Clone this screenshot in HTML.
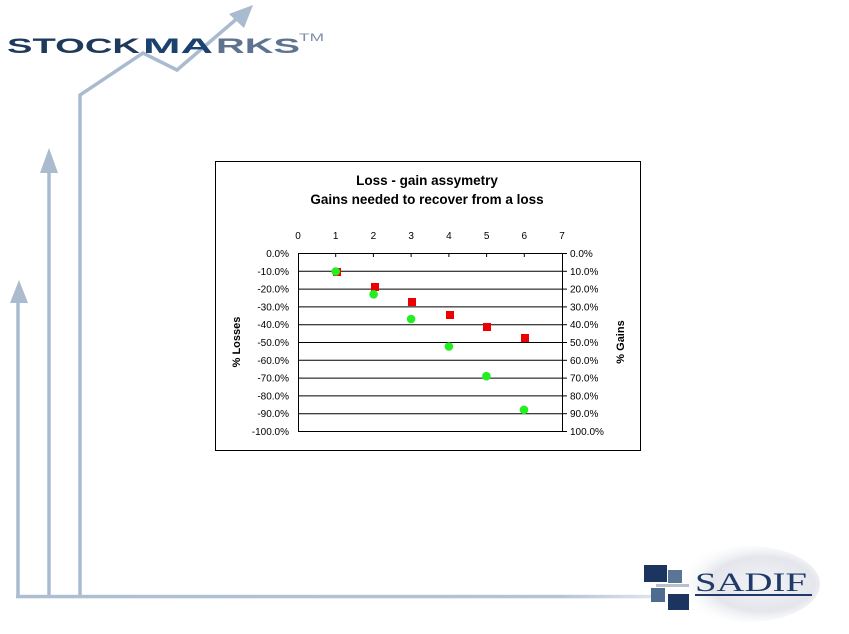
<!DOCTYPE html>
<html><head><meta charset="utf-8"><style>
html,body{margin:0;padding:0;background:#fff;}
svg{display:block;}
text{font-family:"Liberation Sans",Arial,sans-serif;}
text.serif{font-family:"Liberation Serif","DejaVu Serif",serif;}
</style></head><body>
<svg width="849" height="634" viewBox="0 0 849 634" xmlns="http://www.w3.org/2000/svg">
<defs>
<radialGradient id="ell" cx="0.6" cy="0.5" r="0.6">
<stop offset="0" stop-color="#f2f3f6"/>
<stop offset="0.6" stop-color="#e4e6ec"/>
<stop offset="1" stop-color="#ffffff" stop-opacity="0"/>
</radialGradient>
<linearGradient id="bl" gradientUnits="userSpaceOnUse" x1="16" y1="0" x2="652" y2="0">
<stop offset="0" stop-color="#aebed2"/>
<stop offset="0.85" stop-color="#b4c3d6"/>
<stop offset="1" stop-color="#dde4ec"/>
</linearGradient>
</defs>

<!-- background decoration lines -->
<g stroke="#aabbd0" stroke-width="3.5" fill="none" stroke-linejoin="miter">
<line x1="18" y1="300" x2="18" y2="597"/>
<line x1="49" y1="170" x2="49" y2="597"/>
<polyline points="80,597 80,95 143,53 177,70 240,16"/>
</g>
<rect x="16" y="594.8" width="636" height="3.5" fill="url(#bl)"/>
<g fill="#aabbd0">
<polygon points="19,280 10,303 28,303"/>
<polygon points="49,148 40,173 58,173"/>
<polygon points="253,5 229,14 244,28"/>
</g>

<!-- STOCKMARKS logo -->
<g font-weight="bold" font-size="21">
<text x="7" y="53" textLength="133" lengthAdjust="spacingAndGlyphs" fill="#1d3a5c">STOCK</text>
<text x="143" y="53" textLength="70" lengthAdjust="spacingAndGlyphs" fill="#1b426f">MA</text>
<text x="216" y="53" textLength="84" lengthAdjust="spacingAndGlyphs" fill="#5d7390">RKS</text>
</g>
<text x="299" y="41" font-size="11" fill="#7d8ea6" textLength="25" lengthAdjust="spacingAndGlyphs">TM</text>

<!-- SADIF logo -->
<ellipse cx="748" cy="584" rx="72" ry="38" fill="url(#ell)"/>
<rect x="644" y="565" width="23" height="17" fill="#1b3560"/>
<rect x="668" y="570" width="14" height="13" fill="#5b7597"/>
<rect x="656" y="584" width="33" height="3" fill="#b8c0cc"/>
<rect x="651" y="588" width="14" height="14" fill="#4f6b90"/>
<rect x="668" y="594" width="21" height="16" fill="#1b3560"/>
<text class="serif" x="695" y="591" font-size="26" fill="#1f3a68" textLength="112" lengthAdjust="spacingAndGlyphs">SADIF</text>
<rect x="695" y="594" width="117" height="2" fill="#1f3a68"/>

<!-- Chart frame -->
<rect x="215.5" y="161.5" width="425" height="289" fill="#fff" stroke="#000" stroke-width="1"/>
<text x="427" y="185" font-size="13.5" font-weight="bold" text-anchor="middle" fill="#000">Loss - gain assymetry</text>
<text x="427" y="204" font-size="13.5" font-weight="bold" text-anchor="middle" fill="#000">Gains needed to recover from a loss</text>

<!-- gridlines -->
<g stroke="#000" stroke-width="1">
<line x1="298" y1="253.5" x2="562" y2="253.5"/>
<line x1="298" y1="271.3" x2="562" y2="271.3"/>
<line x1="298" y1="289.1" x2="562" y2="289.1"/>
<line x1="298" y1="306.9" x2="562" y2="306.9"/>
<line x1="298" y1="324.7" x2="562" y2="324.7"/>
<line x1="298" y1="342.5" x2="562" y2="342.5"/>
<line x1="298" y1="360.3" x2="562" y2="360.3"/>
<line x1="298" y1="378.1" x2="562" y2="378.1"/>
<line x1="298" y1="395.9" x2="562" y2="395.9"/>
<line x1="298" y1="413.7" x2="562" y2="413.7"/>
<line x1="298" y1="431.5" x2="562" y2="431.5"/>
<line x1="298.5" y1="253" x2="298.5" y2="432"/>
<line x1="562.5" y1="253" x2="562.5" y2="432"/>
<!-- right ticks -->
<line x1="562" y1="253.5" x2="567" y2="253.5"/>
<line x1="562" y1="271.3" x2="567" y2="271.3"/>
<line x1="562" y1="289.1" x2="567" y2="289.1"/>
<line x1="562" y1="306.9" x2="567" y2="306.9"/>
<line x1="562" y1="324.7" x2="567" y2="324.7"/>
<line x1="562" y1="342.5" x2="567" y2="342.5"/>
<line x1="562" y1="360.3" x2="567" y2="360.3"/>
<line x1="562" y1="378.1" x2="567" y2="378.1"/>
<line x1="562" y1="395.9" x2="567" y2="395.9"/>
<line x1="562" y1="413.7" x2="567" y2="413.7"/>
<line x1="562" y1="431.5" x2="567" y2="431.5"/>
<!-- top ticks -->
<line x1="335.7" y1="253" x2="335.7" y2="257"/>
<line x1="373.4" y1="253" x2="373.4" y2="257"/>
<line x1="411.1" y1="253" x2="411.1" y2="257"/>
<line x1="448.9" y1="253" x2="448.9" y2="257"/>
<line x1="486.6" y1="253" x2="486.6" y2="257"/>
<line x1="524.3" y1="253" x2="524.3" y2="257"/>
</g>

<!-- top x labels -->
<g font-size="10" text-anchor="middle" fill="#000">
<text x="298" y="239">0</text>
<text x="335.7" y="239">1</text>
<text x="373.4" y="239">2</text>
<text x="411.1" y="239">3</text>
<text x="448.9" y="239">4</text>
<text x="486.6" y="239">5</text>
<text x="524.3" y="239">6</text>
<text x="562" y="239">7</text>
</g>

<!-- left labels -->
<g font-size="10" text-anchor="end" fill="#000">
<text x="289" y="257">0.0%</text>
<text x="289" y="275">-10.0%</text>
<text x="289" y="292.5">-20.0%</text>
<text x="289" y="310.5">-30.0%</text>
<text x="289" y="328">-40.0%</text>
<text x="289" y="346">-50.0%</text>
<text x="289" y="364">-60.0%</text>
<text x="289" y="381.5">-70.0%</text>
<text x="289" y="399.5">-80.0%</text>
<text x="289" y="417">-90.0%</text>
<text x="289" y="435">-100.0%</text>
</g>
<!-- right labels -->
<g font-size="10" fill="#000">
<text x="570" y="257">0.0%</text>
<text x="570" y="275">10.0%</text>
<text x="570" y="292.5">20.0%</text>
<text x="570" y="310.5">30.0%</text>
<text x="570" y="328">40.0%</text>
<text x="570" y="346">50.0%</text>
<text x="570" y="364">60.0%</text>
<text x="570" y="381.5">70.0%</text>
<text x="570" y="399.5">80.0%</text>
<text x="570" y="417">90.0%</text>
<text x="570" y="435">100.0%</text>
</g>

<!-- axis titles -->
<text transform="translate(240,342) rotate(-90)" font-size="11" font-weight="bold" text-anchor="middle" fill="#000">% Losses</text>
<text transform="translate(624,342) rotate(-90)" font-size="11" font-weight="bold" text-anchor="middle" fill="#000">% Gains</text>

<!-- red squares -->
<g fill="#ee0000">
<rect x="333" y="268" width="8" height="8"/>
<rect x="371" y="283" width="8" height="8"/>
<rect x="408" y="298" width="8" height="8"/>
<rect x="446" y="311" width="8" height="8"/>
<rect x="483" y="323" width="8" height="8"/>
<rect x="521" y="334" width="8" height="8"/>
</g>
<!-- green circles -->
<g fill="#22ee22">
<circle cx="335.7" cy="271.5" r="4.3"/>
<circle cx="373.6" cy="294.3" r="4.3"/>
<circle cx="411.1" cy="319" r="4.3"/>
<circle cx="448.9" cy="346.5" r="4.3"/>
<circle cx="486.4" cy="376.2" r="4.3"/>
<circle cx="524" cy="409.8" r="4.3"/>
</g>
</svg>
</body></html>
